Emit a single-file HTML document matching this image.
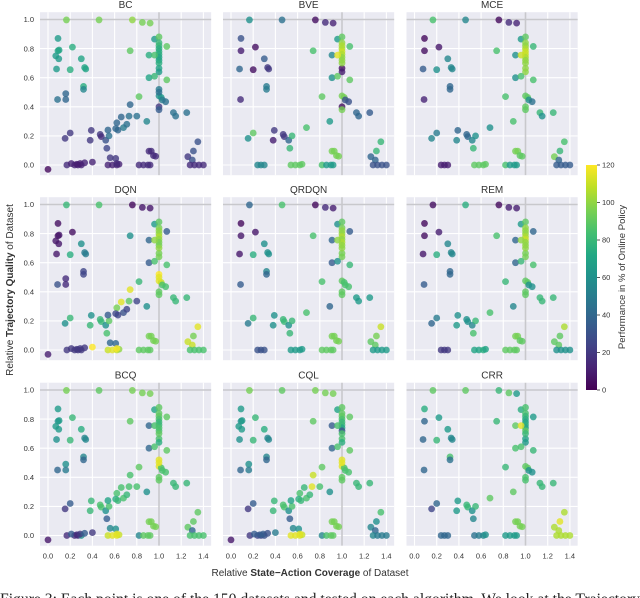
<!DOCTYPE html>
<html><head><meta charset="utf-8">
<style>
html,body{margin:0;padding:0;background:#fff;width:640px;height:598px;overflow:hidden}
svg{display:block;font-family:"Liberation Sans",sans-serif}
</style></head>
<body>
<svg id="chart" width="640" height="598" viewBox="0 0 640 598" xmlns="http://www.w3.org/2000/svg">
  <defs>
    <linearGradient id="viridis" x1="0" y1="1" x2="0" y2="0">
      <stop offset="0" stop-color="#440154"/><stop offset="0.1" stop-color="#482475"/>
      <stop offset="0.2" stop-color="#414487"/><stop offset="0.3" stop-color="#355f8d"/>
      <stop offset="0.4" stop-color="#2a788e"/><stop offset="0.5" stop-color="#21918c"/>
      <stop offset="0.6" stop-color="#22a884"/><stop offset="0.7" stop-color="#44bf70"/>
      <stop offset="0.8" stop-color="#7ad151"/><stop offset="0.9" stop-color="#bddf26"/>
      <stop offset="1" stop-color="#fde725"/>
    </linearGradient>
  </defs>
  <g id="panels"></g>
  <g id="colorbar">
    <rect x="586" y="165" width="11" height="225" fill="url(#viridis)"/>
  </g>
  <text transform="translate(13,290) rotate(-90)" text-anchor="middle" font-size="10" fill="#333">Relative <tspan font-weight="bold">Trajectory Quality</tspan> of Dataset</text>
  <text x="310" y="576" text-anchor="middle" font-size="10" fill="#333">Relative <tspan font-weight="bold">State−Action Coverage</tspan> of Dataset</text>
  <text transform="translate(625,277) rotate(-90)" text-anchor="middle" font-size="9.5" fill="#333">Performance in % of Online Policy</text>
  <text x="0" y="604" font-family="'Liberation Serif',serif" font-size="15.5" fill="#222" textLength="640" lengthAdjust="spacingAndGlyphs">Figure 3: Each point is one of the 150 datasets and tested on each algorithm. We look at the Trajectory</text>
</svg>
<script>
const titles = ["BC","BVE","MCE","DQN","QRDQN","REM","BCQ","CQL","CRR"];
const xTicks = [0,0.2,0.4,0.6,0.8,1.0,1.2,1.4];
const yTicks = [0,0.2,0.4,0.6,0.8,1.0];
const cbTicks = [0,20,40,60,80,100,120];
const sX = [.166,.46,.76,.85,.92,.09,.09,.22,.30,.077,.2,.33,.34,.32,.32,.086,.74,.96,1.0,1.0,1.0,1.0,1.0,1.0,1.0,1.0,.91,.96,1.07,1.0,1.0,.91,.96,1.07,.82,1.0,1.02,1.03,1.06,1.0,1.0,1.13,1.15,1.25,.89,.68,.39,.2,.154,.47,.48,.38,.52,.55,.53,.91,.93,.95,.97,1.26,1.30,1.31,1.35,.24,.27,.30,.54,.58,.62,.64,.82,.86,.90,.92,1.28,1.32,1.36,1.40,1.0];
const sY = [.997,.997,.997,.98,.975,.87,.785,.81,.73,.66,.655,.67,.66,.54,.52,.45,.785,.865,.88,.84,.82,.80,.78,.76,.74,.72,.755,.755,.815,.665,.64,.60,.61,.585,.47,.475,.465,.447,.435,.40,.38,.36,.336,.36,.30,.257,.238,.22,.183,.21,.195,.17,.17,.2,.115,.095,.095,.065,.06,.057,.034,.096,.16,0,0,0,0,0,0,.005,0,0,0,0,0,0,0,0,.70];
const perfBC   = [95,95,100,95,95,65,70,75,70,65,75,70,70,75,55,45,90,65,90,80,80,75,75,75,70,70,75,85,90,70,65,70,80,90,90,60,65,50,45,20,35,45,45,45,55,50,20,20,20,20,15,20,30,45,25,15,15,15,15,20,30,30,30,12,12,12,12,12,12,12,15,15,15,15,15,15,15,15,75];
const perfBVE  = [60,45,5,15,12,30,10,5,35,40,5,20,20,50,50,15,85,65,90,100,105,105,110,105,100,100,55,115,85,5,10,60,90,90,90,95,95,30,30,5,95,40,40,35,65,85,20,90,60,20,20,10,40,80,80,95,95,95,95,40,40,80,80,55,55,55,90,90,90,90,85,65,65,65,30,30,30,30,100];
const perfMCE  = [85,55,3,15,12,3,5,8,55,35,60,55,55,40,40,12,85,65,90,100,100,105,110,110,105,100,60,110,80,100,100,60,85,85,85,90,90,60,45,90,90,80,60,80,85,60,40,50,55,40,40,55,55,60,80,95,95,90,90,95,40,80,85,10,10,10,90,90,90,90,85,65,65,65,35,35,35,35,100];
const perfDQN  = [80,85,3,8,8,5,5,5,60,8,75,50,50,25,25,30,60,65,90,95,100,100,105,100,95,95,40,100,35,95,95,35,85,85,80,115,110,85,85,90,90,80,80,80,60,30,60,80,60,80,80,80,60,90,85,95,95,95,95,110,110,95,115,20,20,20,110,115,110,100,90,90,90,90,85,85,85,85,100];
const perfQRDQN= [40,85,3,15,10,3,8,8,60,8,75,60,60,55,40,35,85,60,90,95,100,100,105,100,105,100,40,100,35,95,95,35,60,80,85,90,85,85,85,90,90,65,65,65,40,85,60,80,50,80,80,60,60,80,80,95,95,95,95,90,90,95,110,30,30,30,65,65,65,65,90,90,90,90,65,65,65,65,100];
const perfREM  = [5,75,3,10,10,3,5,10,55,8,75,55,55,40,40,35,85,65,90,100,100,100,105,110,100,100,40,100,40,95,95,40,80,85,80,90,90,60,60,90,90,80,80,80,55,85,60,50,40,60,60,65,55,80,85,95,95,90,90,90,90,90,105,20,20,20,70,70,75,70,90,90,90,90,60,60,60,60,100];
const perfBCQ  = [95,90,95,95,95,65,60,80,75,60,80,55,55,55,40,40,90,70,90,90,90,85,80,80,85,85,40,85,90,85,75,40,85,90,90,115,85,85,85,90,90,80,80,80,60,85,80,35,20,85,85,80,60,85,35,95,95,95,95,90,40,90,90,15,15,60,110,115,115,110,55,90,90,90,85,85,85,85,90];
const perfCQL  = [95,90,95,95,95,65,60,80,75,60,80,55,55,55,40,40,90,70,90,90,90,85,80,80,70,30,35,85,90,85,75,40,85,90,90,115,85,85,85,90,90,80,80,80,60,85,80,35,20,85,85,80,60,85,35,95,95,95,95,55,40,60,85,25,25,30,115,115,115,110,55,85,90,90,55,50,50,50,85];
const perfCRR  = [90,90,80,90,65,75,40,65,65,40,80,55,55,85,45,40,80,75,85,85,80,75,70,75,70,90,90,115,65,70,65,85,85,80,80,90,90,60,60,85,85,80,80,80,90,90,65,40,25,80,80,65,60,80,55,95,95,95,95,105,105,115,105,40,40,40,45,50,55,60,65,65,65,65,105,105,105,105,80];
const eX = [0.0,0.17,0.21,0.26,0.29,0.33,0.40,0.56,0.61,0.62,0.74,0.80,0.73,0.66,0.71,0.62,0.61,0.63,0.54,0.07,0.1,0.16,0.16,1.0,1.0,0.097];
const eY = [-0.03,0.0,0.01,0.005,0.01,0.015,0.02,0.05,0.045,0.01,0.415,0.336,0.336,0.33,0.28,0.29,0.25,0.24,0.24,0.75,0.79,0.49,0.45,0.52,0.50,0.73];
const extraBC  = [3,15,12,10,10,12,12,20,20,15,40,45,45,40,45,40,40,40,40,65,70,40,40,50,45,65];
const extraDQN = [10,20,20,20,20,20,120,40,40,120,115,25,90,115,25,95,25,25,35,8,8,15,15,120,115,8];
const extraBCQ = [8,15,35,15,20,35,20,55,60,115,85,85,85,85,80,85,75,80,70,65,65,60,50,115,115,65];
const extraCQL = [8,20,35,35,35,30,50,55,60,115,110,85,115,80,80,85,75,80,70,65,65,60,50,115,115,65];
const perfs = [perfBC,perfBVE,perfMCE,perfDQN,perfQRDQN,perfREM,perfBCQ,perfCQL,perfCRR];
const extras = [extraBC,null,null,extraDQN,null,null,extraBCQ,extraCQL,null];

const NS = "http://www.w3.org/2000/svg";
function mk(tag, attrs, parent){const e=document.createElementNS(NS,tag);for(const k in attrs)e.setAttribute(k,attrs[k]);parent.appendChild(e);return e;}
const stops=[[68,1,84],[72,36,117],[65,68,135],[53,95,141],[42,120,142],[33,145,140],[34,168,132],[68,191,112],[122,209,81],[189,223,38],[253,231,37]];
function viridis(v){let t=Math.max(0,Math.min(1,v/120))*10;const i=Math.min(9,Math.floor(t));const f=t-i;const a=stops[i],b=stops[i+1];return `rgb(${Math.round(a[0]+(b[0]-a[0])*f)},${Math.round(a[1]+(b[1]-a[1])*f)},${Math.round(a[2]+(b[2]-a[2])*f)})`;}

const colX0=[48,231,414.5], rowY1=[19.5,204.5,390];
const kx=111, ky=145.5;
const root=document.getElementById('panels');
for(let p=0;p<9;p++){
  const c=p%3, r=Math.floor(p/3);
  const xs=v=>colX0[c]+v*kx;
  const ys=v=>rowY1[r]+(1-v)*ky;
  const g=mk('g',{},root);
  
  
  const left=xs(-0.072), right=xs(1.47), top=ys(1.05), bottom=ys(-0.07);
  const bg=mk('rect',{x:left,y:top,width:right-left,height:bottom-top,fill:'#eaeaf2'},g);
  
  
  xTicks.forEach(t=>{const l=mk('line',{x1:xs(t),x2:xs(t),y1:top,y2:bottom,stroke:'#fff','stroke-width':1.1},g);
    
    });
  yTicks.forEach(t=>{const l=mk('line',{x1:left,x2:right,y1:ys(t),y2:ys(t),stroke:'#fff','stroke-width':1.1},g);
    
    });
  const rv=mk('line',{x1:xs(1),x2:xs(1),y1:top,y2:bottom,stroke:'#c8c8cc','stroke-width':1.6},g);
  
  
  const rh=mk('line',{x1:left,x2:right,y1:ys(1),y2:ys(1),stroke:'#c8c8cc','stroke-width':1.6},g);
  
  
  const tt=mk('text',{x:(left+right)/2,y:top-4,'text-anchor':'middle','font-size':10,fill:'#333'},g);
  tt.textContent=titles[p];
  
  
  if(c===0){yTicks.forEach(t=>{const tx=mk('text',{x:left-6,y:ys(t)+2.7,'text-anchor':'end','font-size':7.5,fill:'#333'},g);
    tx.textContent=t.toFixed(1);
    
    });}
  if(r===2){xTicks.forEach(t=>{const tx=mk('text',{x:xs(t),y:bottom+13,'text-anchor':'middle','font-size':7.5,fill:'#333'},g);
    tx.textContent=t.toFixed(1);
    
    });}
  const perf=perfs[p];
  for(let i=0;i<sX.length;i++){
    const pt=mk('circle',{cx:xs(sX[i]),cy:ys(sY[i]),r:3.4,fill:viridis(perf[i]),'fill-opacity':0.8},g);
    
    
  }
  const ex=extras[p];
  if(ex){for(let i=0;i<eX.length;i++){
    const pt=mk('circle',{cx:xs(eX[i]),cy:ys(eY[i]),r:3.4,fill:viridis(ex[i]),'fill-opacity':0.8},g);
    
    
  }}
}
const cb=document.getElementById('colorbar');
cbTicks.forEach(t=>{const y=390-t/120*225;
  const l=mk('line',{x1:597,x2:600,y1:y,y2:y,stroke:'#333','stroke-width':0.8},cb);
  
  
  const tx=mk('text',{x:602,y:y+2.7,'font-size':7.5,fill:'#333'},cb);
  tx.textContent=t;
  
  
});
</script>
</body></html>
